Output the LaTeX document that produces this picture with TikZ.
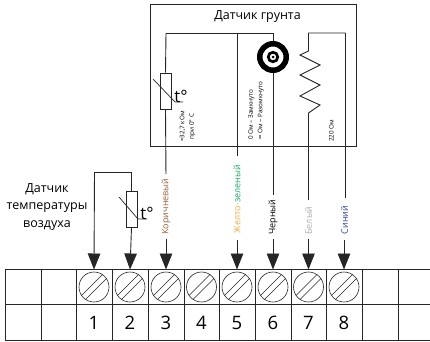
\documentclass[tikz,border=0pt]{standalone}
\usepackage{fontspec}
\setmainfont{Open Sans}
\usetikzlibrary{arrows.meta}
\definecolor{cbrown}{RGB}{150,100,60}
\definecolor{corange}{RGB}{245,170,60}
\definecolor{cgreen}{RGB}{30,170,100}
\definecolor{cgrey}{RGB}{175,175,175}
\definecolor{cblue}{RGB}{50,70,160}
\tikzset{
  wire/.style={draw=black!85,line width=0.9pt},
  feed/.style={wire,-{Triangle[length=16pt,width=12.5pt]}},
  cell/.style={draw=black!85,line width=0.9pt},
  rlabel/.style={rotate=90,inner sep=0pt,font=\fontsize{9}{10}\selectfont},
  tiny/.style={rotate=90,inner sep=0pt,font=\fontsize{6.3}{9.5}\selectfont},
  num/.style={inner sep=0pt,font=\fontsize{18.5}{20}\selectfont},
  screw/.style={circle,draw=black!85,line width=0.6pt,minimum size=30pt,inner sep=0pt},
  slash/.style={line width=0.5pt,draw=black!85},
  heading/.style={inner sep=0pt,font=\fontsize{12.5}{17.5}\selectfont,align=center},
  tdeg/.style={inner sep=0pt,font=\fontsize{17}{18}\selectfont,anchor=base},
  thermo/.style={draw=black!85,line width=0.9pt,minimum width=11pt,minimum height=36pt,inner sep=0pt},
}
\begin{document}
\begin{tikzpicture}[x=1pt,y=-1pt]
\useasboundingbox (0,0) rectangle (430,341);
% terminal block
\draw[cell] (430,269) -- (5,269) -- (5,340) -- (430,340);
\draw[cell] (5,304.5) -- (430,304.5);
\foreach \x in {41,76.5,112,148,184,219.5,255,291,326.5,362,398}
  \draw[cell] (\x,269) -- (\x,340);
% screws and numbers
\foreach \n/\x in {1/94,2/130,3/166,4/201.5,5/237,6/273,7/308.5,8/344}{
  \node[screw] (s\n) at (\x,287) {};
  \draw[slash] (\x-12.5,287+8.5) -- (\x+8.5,287-12.5);
  \draw[slash] (\x-8.5,287+12.5) -- (\x+12.5,287-8.5);
  \node[num] (n\n) at (\x,322.5) {\n};
  \coordinate (a\n) at (\x,269.5);
}
% sensor box
\node[draw=black!85,line width=0.9pt,minimum width=206pt,minimum height=142pt,inner sep=0pt] (box) at (253,75) {};
\node[heading] (title) at (257.5,17) {Датчик грунта};
% top rail
\coordinate (tl) at (166,33);
\coordinate (tm) at (237,33);
\coordinate (tc) at (273,33);
\coordinate (tz) at (308.5,33);
\coordinate (tb) at (345.5,33);
\draw[wire] (273,41) -- (tc) -- (tl);
% soil thermistor
\node[thermo,fill=white] (th1) at (165.5,91) {};
\draw[wire] (tl) -- (th1.north);
\draw[slash,line width=0.7pt] (153,79) -- (175,102) -- (183,102);
\node[tdeg] (t1) at (181,102) {t°};
% brown
\node[rlabel,text=cbrown] (lb3) at (166,206.5) {Коричневый};
\draw[wire,shorten >=4pt] (th1.south) -- (lb3.east);
\draw[feed,shorten <=4pt] (lb3.west) -- (a3);
% green
\coordinate (g1) at (237,156);
\draw[wire] (tm) -- (g1);
\node[rlabel] (lb5) at (237,199) {\textcolor{corange}{Желто-}\textcolor{cgreen}{зеленый}};
\draw[feed] (237,240) -- (a5);
% coax
\node[circle,draw=black,line width=5.5pt,minimum size=26.5pt,inner sep=0pt] (cx) at (273,57) {};
\node[circle,draw=black,line width=2.7pt,minimum size=9.5pt,inner sep=0pt] (cx2) at (273,57) {};
\fill[black] (273,57) circle (1.5pt);
\node[rlabel,text=black] (lb6) at (273,217) {Черный};
\draw[wire,shorten >=4pt] (cx.south) -- (lb6.east);
\draw[feed,shorten <=4pt] (lb6.west) -- (a6);
% resistor
\coordinate (z0) at (308.5,51);
\coordinate (z1) at (308.5,113);
\draw[wire] (tb) -- (tz) -- (z0) -- (300,55) -- (320,65) -- (300,75) -- (320,85) -- (300,96) -- (320,105) -- (z1);
\node[rlabel,text=cgrey] (lb7) at (308.5,220.5) {Белый};
\draw[wire,shorten >=6pt] (z1) -- (lb7.east);
\draw[feed,shorten <=4pt] (lb7.west) -- (a7);
\node[rlabel,text=cblue] (lb8) at (344.5,220) {Синий};
\draw[wire] (tb) -- (345.5,198);
\draw[feed] (344,240) -- (a8);
% small texts
\node[tiny,align=center] (q1) at (187.5,126.5) {≈32,7 кОм\\при 0° С};
\node[tiny,align=left,anchor=south west] (q2) at (264,140) {0 Ом – Замкнуто\\∞ Ом – Разомкнуто};
\node[tiny,anchor=south west] (q3) at (334,142) {220 Ом};
% air sensor
\node[thermo] (th2) at (131.5,209) {};
\coordinate (c1) at (94.5,172);
\coordinate (c2) at (130,172);
\draw[wire] (th2.north) -- (th2.north |- c2) -- (c1);
\draw[feed] (c1) -- (a1);
\draw[feed] (th2.south) -- (a2);
\draw[slash,line width=0.7pt] (119,197) -- (138,219) -- (147,219);
\node[tdeg] (t2) at (147,219) {t°};
\node[heading] (air) at (47,207) {Датчик\\температуры\\воздуха};
\end{tikzpicture}
\end{document}
